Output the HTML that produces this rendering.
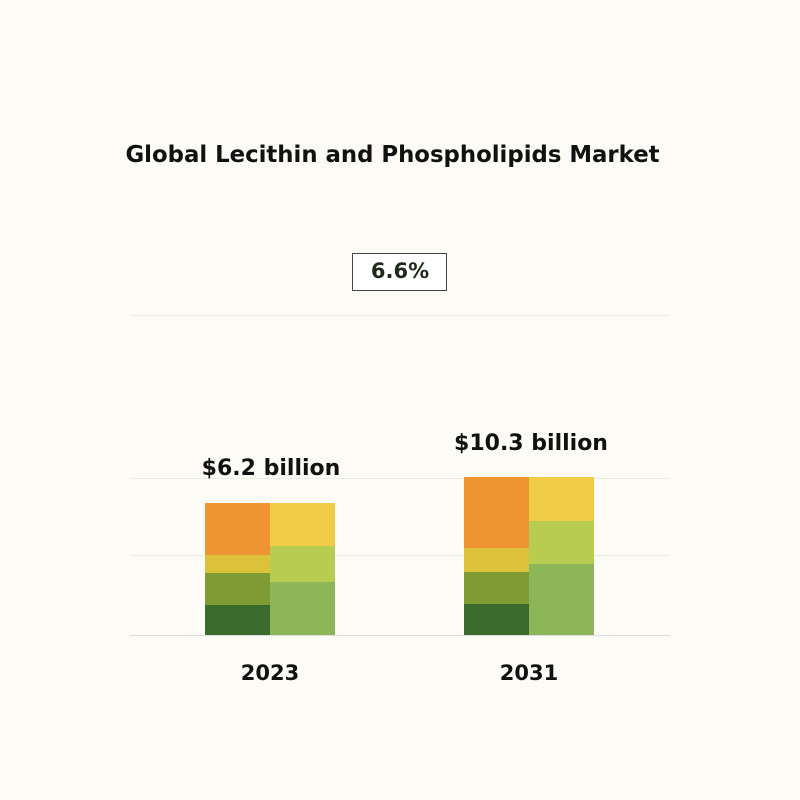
<!DOCTYPE html>
<html><head><style>
body{margin:0;width:800px;height:800px;background:#fcfbf6;position:relative;overflow:hidden;font-family:"DejaVu Sans",sans-serif;font-weight:bold;color:#111}
div{position:absolute}
.t{white-space:nowrap}
.g{left:130px;width:540px;height:1px;background:#ebebe6}
</style></head><body>
<div class="t" style="left:0;width:785px;text-align:center;top:142px;font-size:22.8px">Global Lecithin and Phospholipids Market</div>
<div style="left:352px;top:253px;width:93px;height:36px;border:1.5px solid #444;background:#fff"></div>
<div class="t" style="left:352px;width:96px;text-align:center;top:259px;font-size:21px;color:#1d2a1a">6.6%</div>
<div class="g" style="top:315px"></div>
<div class="g" style="top:478px"></div>
<div class="g" style="top:555px"></div>
<div class="g" style="top:635px;background:#ddd"></div>
<div style="left:205px;top:503px;width:65px;height:52px;background:#ee9433"></div>
<div style="left:205px;top:555px;width:65px;height:18px;background:#dcc13a"></div>
<div style="left:205px;top:573px;width:65px;height:32px;background:#7e9c33"></div>
<div style="left:205px;top:605px;width:65px;height:30px;background:#3a6a2c"></div>
<div style="left:270px;top:503px;width:65px;height:43px;background:#f0cb45"></div>
<div style="left:270px;top:546px;width:65px;height:36px;background:#b8cc52"></div>
<div style="left:270px;top:582px;width:65px;height:53px;background:#8db658"></div>
<div style="left:464px;top:477px;width:65px;height:71px;background:#ee9433"></div>
<div style="left:464px;top:548px;width:65px;height:24px;background:#dcc13a"></div>
<div style="left:464px;top:572px;width:65px;height:32px;background:#7e9c33"></div>
<div style="left:464px;top:604px;width:65px;height:31px;background:#3a6a2c"></div>
<div style="left:529px;top:477px;width:65px;height:44px;background:#f0cb45"></div>
<div style="left:529px;top:521px;width:65px;height:43px;background:#b8cc52"></div>
<div style="left:529px;top:564px;width:65px;height:71px;background:#8db658"></div>
<div class="t" style="left:171px;width:200px;text-align:center;top:456px;font-size:22px">$6.2 billion</div>
<div class="t" style="left:431px;width:200px;text-align:center;top:431px;font-size:22px">$10.3 billion</div>
<div class="t" style="left:170px;width:200px;text-align:center;top:661px;font-size:21px">2023</div>
<div class="t" style="left:429px;width:200px;text-align:center;top:661px;font-size:21px">2031</div>
</body></html>
